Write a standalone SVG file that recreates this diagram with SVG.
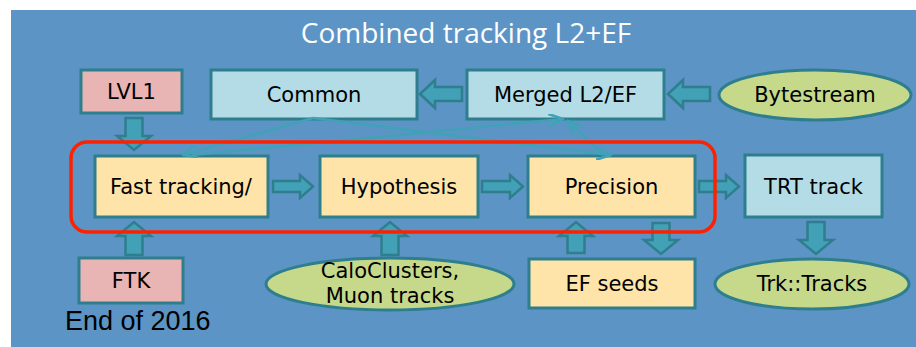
<svg xmlns="http://www.w3.org/2000/svg" width="916" height="347" viewBox="0 0 916 347">
<defs>
<style>
.bg{fill:#5C95C5}
.box{stroke:#2F7E8E;stroke-width:3}
.pink{fill:#E9B4B4}
.lb{fill:#B3DCE6}
.yel{fill:#FEE4A9}
.grn{fill:#C6D98B}
.lbl{font-family:"DejaVu Sans",Verdana,sans-serif;font-size:21px;fill:#000;text-anchor:middle}
.title{font-family:"Open Sans","DejaVu Sans",sans-serif;font-size:28px;fill:#fff;text-anchor:middle}
.note{font-family:"Liberation Sans",Arial,sans-serif;font-size:27px;fill:#000}
.barrow{fill:#42A1B7;stroke:#2F7E8E;stroke-width:2.5;stroke-linejoin:miter}
.thin{stroke:#40A2B6;stroke-width:2.5;fill:none}
</style>
<marker id="open" viewBox="0 0 12 10" refX="11" refY="5" markerWidth="16" markerHeight="13" markerUnits="userSpaceOnUse" orient="auto">
<path d="M0,0 L11,5 L0,10" fill="none" stroke="#40A2B6" stroke-width="2"/>
</marker>
</defs>
<rect x="11" y="10" width="905" height="337" class="bg"/>
<text x="466" y="43" class="title">Combined tracking L2+EF</text>

<g id="lvl1"><rect x="81" y="70" width="101" height="43" class="box pink"/><text x="131.5" y="99" class="lbl">LVL1</text></g>
<g id="common"><rect x="211" y="70" width="206" height="49" class="box lb"/><text x="314" y="102" class="lbl">Common</text></g>
<g id="merged"><rect x="467" y="70" width="197" height="49" class="box lb"/><text x="565.5" y="102" class="lbl">Merged L2/EF</text></g>
<g id="bytestream"><ellipse cx="815" cy="95" rx="96" ry="25" class="box grn"/><text x="815" y="102" class="lbl">Bytestream</text></g>
<g id="fast"><rect x="95" y="156" width="173" height="61" class="box yel"/><text x="181" y="194" class="lbl">Fast tracking/</text></g>
<g id="hypothesis"><rect x="320" y="156" width="158" height="61" class="box yel"/><text x="399" y="194" class="lbl">Hypothesis</text></g>
<g id="precision"><rect x="528" y="156" width="167" height="61" class="box yel"/><text x="611.5" y="194" class="lbl">Precision</text></g>
<g id="trt"><rect x="745" y="155" width="137" height="62" class="box lb"/><text x="813.5" y="194" class="lbl">TRT track</text></g>
<g id="ftk"><rect x="79" y="258" width="104" height="45" class="box pink"/><text x="131" y="288" class="lbl">FTK</text></g>
<g id="calo"><ellipse cx="390" cy="284" rx="124" ry="26" class="box grn"/><text x="390" y="278" class="lbl">CaloClusters,</text><text x="390" y="303" class="lbl">Muon tracks</text></g>
<g id="efseeds"><rect x="529" y="259" width="166" height="49" class="box yel"/><text x="612" y="291" class="lbl">EF seeds</text></g>
<g id="trktracks"><ellipse cx="812" cy="284" rx="97" ry="25" class="box grn"/><text x="812" y="291" class="lbl">Trk::Tracks</text></g>

<g id="connectors">
<path class="barrow" d="M273,181 H300 V175 L313,186.5 L300,198 V192 H273 Z"/>
<path class="barrow" d="M482,181 H510 V175 L523,186.5 L510,198 V192 H482 Z"/>
<path class="barrow" d="M699,181 H726 V175 L739,186.5 L726,198 V192 H699 Z"/>
<path class="barrow" d="M462,87 H435 V80 L420,94 L435,108 V101 H462 Z"/>
<path class="barrow" d="M710,87 H683 V80 L668,94 L683,108 V101 H710 Z"/>
<path class="barrow" d="M125.5,118 V136 H117 L134,150 L151,136 H142.5 V118 Z"/>
<path class="barrow" d="M125.5,255 V236 H117 L134,222 L151,236 H142.5 V255 Z"/>
<path class="barrow" d="M381.5,255 V236 H373 L390,222 L407,236 H398.5 V255 Z"/>
<path class="barrow" d="M567.5,253 V236 H559 L576,222 L593,236 H584.5 V253 Z"/>
<path class="barrow" d="M652.5,223 V240 H644 L661,254 L678,240 H669.5 V223 Z"/>
<path class="barrow" d="M807.5,222 V240 H799 L816,254 L833,240 H824.5 V222 Z"/>
<line class="thin" x1="313" y1="118" x2="183" y2="155" marker-end="url(#open)"/>
<line class="thin" x1="313" y1="118" x2="611" y2="155" marker-end="url(#open)"/>
<line class="thin" x1="192" y1="155" x2="563" y2="119" marker-end="url(#open)"/>
<line class="thin" x1="603" y1="155" x2="568" y2="121" marker-end="url(#open)"/>
</g>

<rect x="71" y="142" width="644" height="90" rx="16" fill="none" stroke="#FF2000" stroke-width="3.5"/>
<text x="65" y="330" class="note">End of 2016</text>
</svg>
